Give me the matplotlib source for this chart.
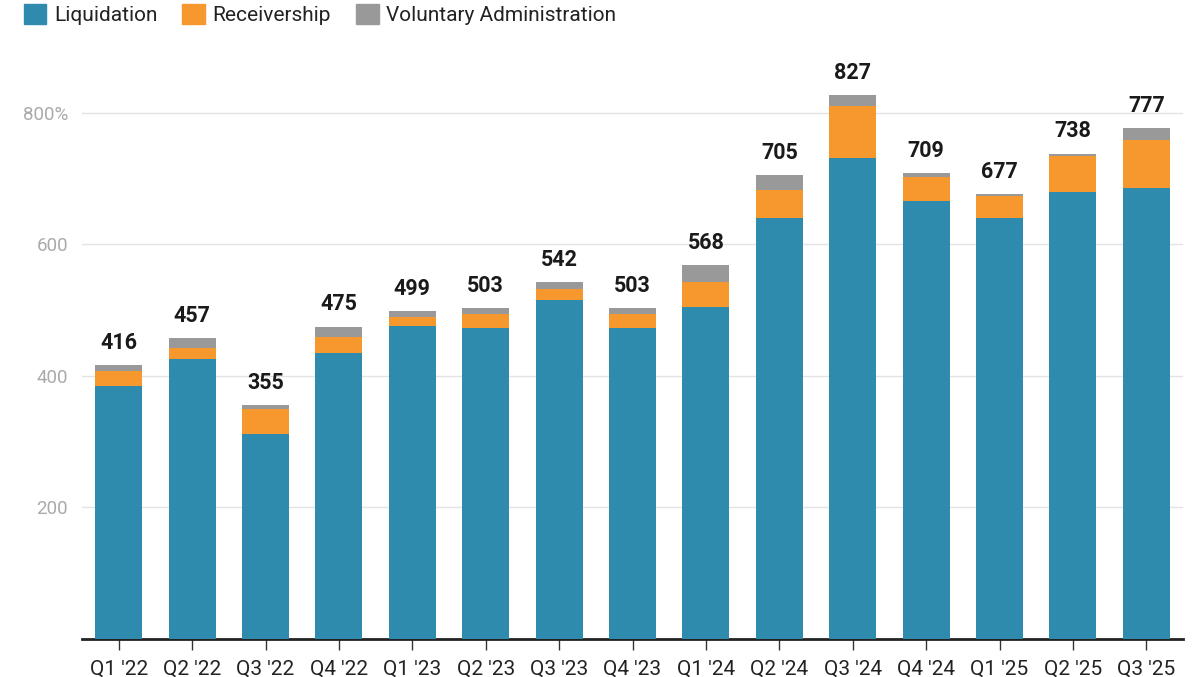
import matplotlib
matplotlib.use("Agg")
import matplotlib.pyplot as plt
from matplotlib.patches import Patch
import numpy as np

plt.rcParams['font.family'] = ['Roboto', 'DejaVu Sans']

# quarterly counts
quarters = ["Q1 '22", "Q2 '22", "Q3 '22", "Q4 '22", "Q1 '23", "Q2 '23", "Q3 '23", "Q4 '23",
            "Q1 '24", "Q2 '24", "Q3 '24", "Q4 '24", "Q1 '25", "Q2 '25", "Q3 '25"]
liquidation = [385, 426, 312, 435, 476, 473, 516, 473, 505, 640, 732, 666, 640, 679, 686]
receivership = [23, 17, 38, 24, 14, 21, 16, 21, 38, 43, 78, 37, 33, 55, 73]
voluntary = [8, 14, 5, 16, 9, 9, 10, 9, 25, 22, 17, 6, 4, 4, 18]
totals = [416, 457, 355, 475, 499, 503, 542, 503, 568, 705, 827, 709, 677, 738, 777]

c_liq = '#2E8BAE'
c_rec = '#F7982F'
c_vol = '#999999'

fig = plt.figure(figsize=(12, 6.77), dpi=100)
ax = fig.add_axes([82 / 1200, 38 / 677, 1101 / 1200, 592 / 677])

x = np.arange(len(quarters))
liq = np.array(liquidation)
rec = np.array(receivership)
vol = np.array(voluntary)
w = 0.64
ax.bar(x, liq, w, color=c_liq, zorder=3)
ax.bar(x, rec, w, bottom=liq, color=c_rec, zorder=3)
ax.bar(x, vol, w, bottom=liq + rec, color=c_vol, zorder=3)

for i, t in enumerate(totals):
    ax.annotate(str(t), (x[i], liq[i] + rec[i] + vol[i]), xytext=(0, 8),
                textcoords='offset points', ha='center', va='bottom',
                fontsize=15.5, fontweight='bold', color='#1a1a1a')

ax.set_xlim(-0.5, len(quarters) - 0.5)
ax.set_ylim(0, 900)
ax.set_yticks([200, 400, 600, 800])
ax.set_yticklabels(['200', '400', '600', '800%'])
ax.set_xticks(x)
ax.set_xticklabels(quarters)
ax.grid(axis='y', color='#e3e3e3', linewidth=1, zorder=0)
for s in ['top', 'right', 'left']:
    ax.spines[s].set_visible(False)
ax.spines['bottom'].set_linewidth(2)
ax.spines['bottom'].set_color('#222222')
ax.tick_params(axis='y', length=0, labelsize=13.5, labelcolor='#aaaaaa', pad=10)
ax.tick_params(axis='x', length=8, width=1, color='#333333', labelsize=15,
               labelcolor='#222222', pad=7)

handles = [Patch(color=c_liq, label='Liquidation'),
           Patch(color=c_rec, label='Receivership'),
           Patch(color=c_vol, label='Voluntary Administration')]
fig.legend(handles=handles, loc='upper left', bbox_to_anchor=(0.004, 1.022), ncol=3,
           frameon=False, fontsize=15, handlelength=1.1, handleheight=1.1,
           handletextpad=0.35, columnspacing=1.2, labelcolor='#222222')

fig.savefig('out.png', dpi=100)
